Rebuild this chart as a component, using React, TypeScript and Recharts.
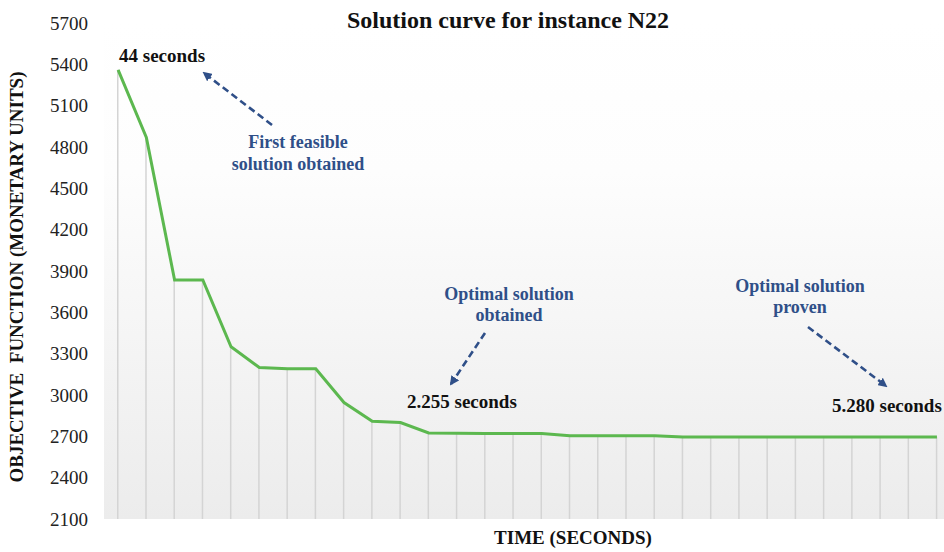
import React from 'react';
import { ComposedChart, Line, Bar, XAxis, YAxis, CartesianGrid } from 'recharts';

const steps: number[] = [0, 1, 2, 3, 4, 5, 6, 7, 8, 9, 10, 11, 12, 13, 14, 15, 16, 17, 18, 19, 20, 21, 22, 23, 24, 25, 26, 27, 28, 29];
const objectiveValues: number[] = [
  5360, 4870, 3835, 3835, 3350, 3200, 3190, 3190, 2945, 2810,
  2800, 2725, 2723, 2720, 2720, 2720, 2705, 2705, 2705, 2705,
  2695, 2695, 2695, 2695, 2695, 2695, 2695, 2695, 2695, 2695,
];
const yTicks: number[] = [2100, 2400, 2700, 3000, 3300, 3600, 3900, 4200, 4500, 4800, 5100, 5400, 5700];

const title = 'Solution curve for instance N22';
const yLabel = 'OBJECTIVE\u00a0\u00a0FUNCTION (MONETARY UNITS)';
const xLabel = 'TIME (SECONDS)';

const data = steps.map((s, k) => ({ i: s, value: objectiveValues[k] }));

const SERIF = '"Liberation Serif", "Times New Roman", serif';
const BLUE = '#2f4f88';

const YLabel = (props: any) => {
  const vb = props.viewBox || { x: 0, y: 0, width: 0, height: 0 };
  const cx = vb.x + 16;
  const cy = vb.y + vb.height / 2 + 6;
  return (
    <text
      x={cx}
      y={cy}
      transform={`rotate(-90, ${cx}, ${cy})`}
      textAnchor="middle"
      dominantBaseline="central"
      fontFamily={SERIF}
      fontWeight="bold"
      fontSize={19}
      fill="#111"
    >
      {yLabel}
    </text>
  );
};

export default function App() {
  return (
    <div style={{ position: 'absolute', left: 0, top: 0, width: 944, height: 552, background: '#fff' }}>
      <ComposedChart width={944} height={552} data={data} margin={{ top: 23, right: 0, bottom: 33, left: 0 }}>
        <defs>
          <linearGradient id="plotBg" x1="0" y1="0" x2="0" y2="1">
            <stop offset="0" stopColor="#ffffff" />
            <stop offset="0.3" stopColor="#fdfdfd" />
            <stop offset="1" stopColor="#ececec" />
          </linearGradient>
        </defs>
        <CartesianGrid horizontal={false} vertical={false} fill="url(#plotBg)" stroke="none" />
        <XAxis type="number" dataKey="i" domain={[-0.5, 29.25]} hide />
        <YAxis
          type="number"
          domain={[2100, 5700]}
          ticks={yTicks}
          interval={0}
          axisLine={false}
          tickLine={false}
          width={104}
          tickMargin={10}
          tick={{ fontSize: 19, fill: '#222', fontFamily: SERIF }}
          label={{ content: YLabel }}
        />
        <Bar dataKey="value" barSize={1.5} fill="#d4d4d4" isAnimationActive={false} />
        <Line
          type="linear"
          dataKey="value"
          stroke="#5cb84f"
          strokeWidth={3}
          dot={false}
          activeDot={false}
          isAnimationActive={false}
        />
      </ComposedChart>
      <svg
        width={944}
        height={552}
        style={{ position: 'absolute', left: 0, top: 0, pointerEvents: 'none' }}
        fontFamily={SERIF}
        fontWeight="bold"
      >
        <defs>
          <marker id="arrowHead" viewBox="0 0 10 10" refX="8" refY="5" markerWidth="3.6" markerHeight="3.6" orient="auto">
            <path d="M0,0 L10,5 L0,10 z" fill={BLUE} />
          </marker>
        </defs>
        <text x={508} y={28} textAnchor="middle" fontSize={24} fill="#111">{title}</text>
        <text x={573} y={544} textAnchor="middle" fontSize={19} fill="#111">{xLabel}</text>

        <text x={119} y={62} fontSize={19} fill="#111">44 seconds</text>
        <text x={298} y={148} textAnchor="middle" fontSize={18} fill={BLUE}>First feasible</text>
        <text x={298} y={170} textAnchor="middle" fontSize={18} fill={BLUE}>solution obtained</text>
        <line x1={272} y1={125} x2={204} y2={73} stroke={BLUE} strokeWidth={2.6} strokeDasharray="7 4" markerEnd="url(#arrowHead)" />

        <text x={509} y={300} textAnchor="middle" fontSize={18} fill={BLUE}>Optimal solution</text>
        <text x={509} y={321} textAnchor="middle" fontSize={18} fill={BLUE}>obtained</text>
        <line x1={485} y1={333} x2={451} y2={384} stroke={BLUE} strokeWidth={2.6} strokeDasharray="7 4" markerEnd="url(#arrowHead)" />
        <text x={407} y={408} fontSize={19} fill="#111">2.255 seconds</text>

        <text x={800} y={292} textAnchor="middle" fontSize={18} fill={BLUE}>Optimal solution</text>
        <text x={800} y={313} textAnchor="middle" fontSize={18} fill={BLUE}>proven</text>
        <line x1={808} y1={327} x2={886} y2={386} stroke={BLUE} strokeWidth={2.6} strokeDasharray="7 4" markerEnd="url(#arrowHead)" />
        <text x={832} y={412} fontSize={19} fill="#111">5.280 seconds</text>
      </svg>
    </div>
  );
}
